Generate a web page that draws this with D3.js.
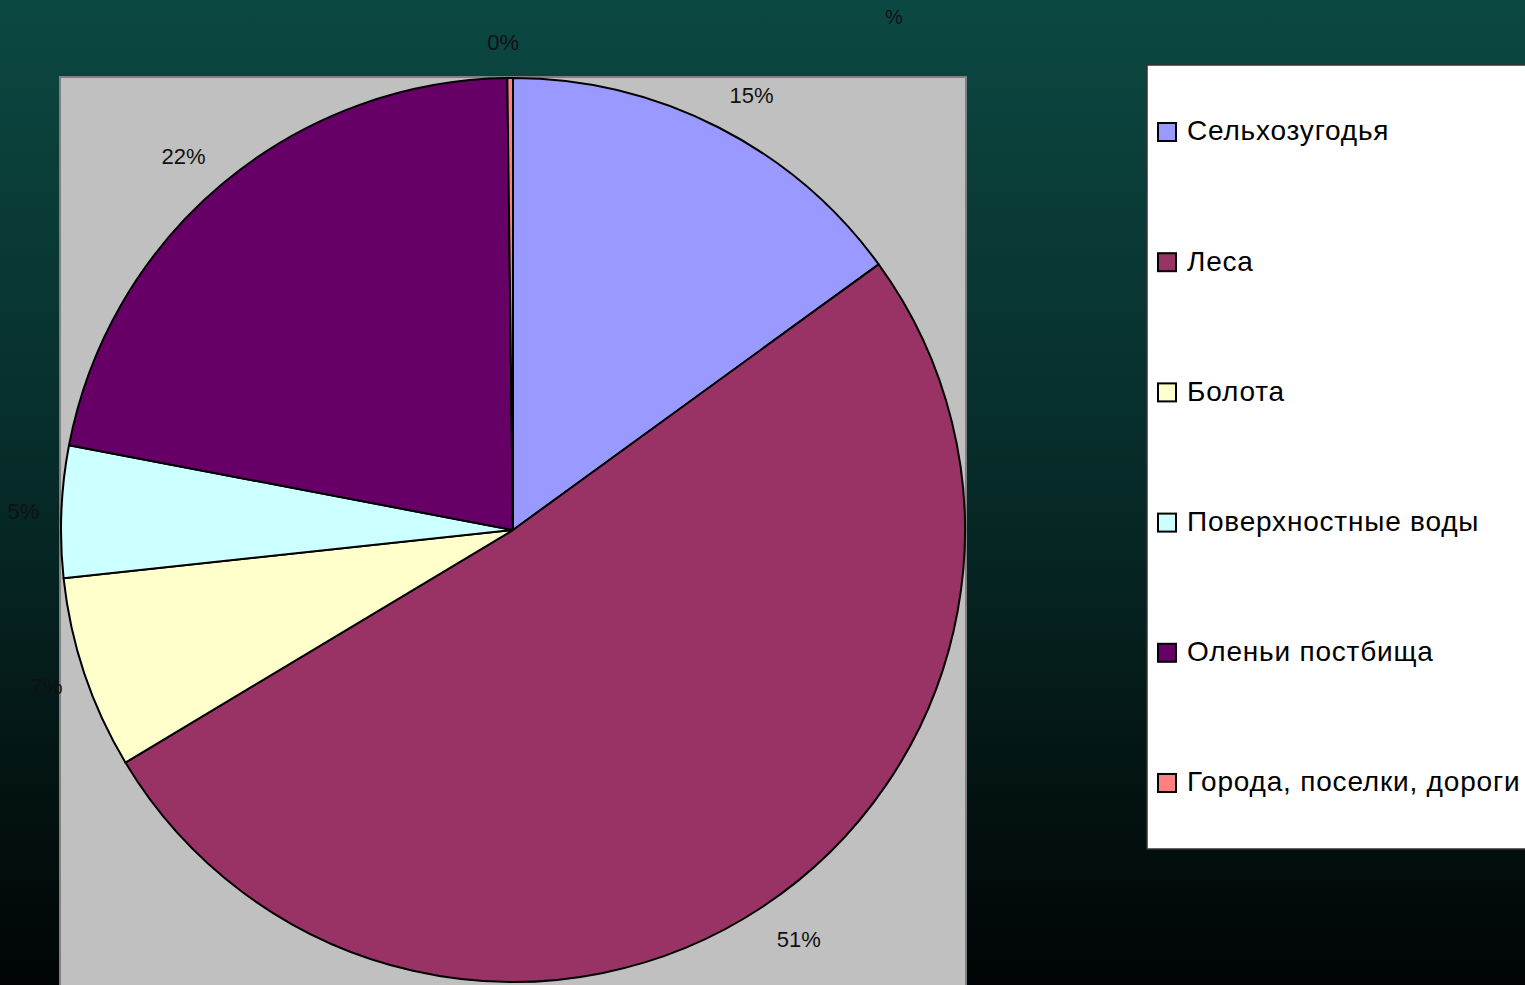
<!DOCTYPE html>
<html>
<head>
<meta charset="utf-8">
<script src="https://cdnjs.cloudflare.com/ajax/libs/d3/7.8.5/d3.min.js"></script>
<style>
  html, body { margin: 0; padding: 0; overflow: hidden; }
  body { width: 1525px; height: 985px; }
  text { font-family: "Liberation Sans", Arial, sans-serif; }
</style>
</head>
<body>
<div id="chart"></div>
<script>
// land categories and their shares (%), clockwise from 12 o'clock
const categories = ["Сельхозугодья", "Леса", "Болота", "Поверхностные воды", "Оленьи постбища", "Города, поселки, дороги"];
const shares = [15, 51.4, 6.9, 4.7, 21.8, 0.2];
const shareLabels = ["15%", "51%", "7%", "5%", "22%", "0%"];
const colors = ["#9999FF", "#993366", "#FFFFCC", "#CCFFFF", "#660066", "#FF8080"];

const W = 1525, H = 985;

const svg = d3.select("#chart").append("svg")
    .attr("width", W)
    .attr("height", H);

// background gradient
const grad = svg.append("defs").append("linearGradient")
    .attr("id", "bg")
    .attr("x1", 0).attr("y1", 0).attr("x2", 0).attr("y2", 1);
grad.append("stop").attr("offset", "0%").attr("stop-color", "#0c4842");
grad.append("stop").attr("offset", "50%").attr("stop-color", "#062a27");
grad.append("stop").attr("offset", "100%").attr("stop-color", "#010404");

svg.append("rect")
    .attr("width", W)
    .attr("height", H)
    .attr("fill", "url(#bg)");

// title
svg.append("text")
    .attr("x", 894)
    .attr("y", 19)
    .attr("text-anchor", "middle")
    .attr("dominant-baseline", "middle")
    .style("font-size", "20px")
    .attr("fill", "#111")
    .text("%");

// plot area
svg.append("rect")
    .attr("x", 60)
    .attr("y", 77)
    .attr("width", 906)
    .attr("height", 920)
    .attr("fill", "#C0C0C0")
    .attr("stroke", "#808080")
    .attr("stroke-width", 2);

const cx = 513, cy = 530, r = 452, labelR = 489;

const pie = d3.pie().sort(null).value(d => d);
const arcs = pie(shares);

const arc = d3.arc().innerRadius(0).outerRadius(r);

const g = svg.append("g")
    .attr("transform", "translate(" + cx + "," + cy + ")");

g.selectAll(".slice")
    .data(arcs)
    .enter().append("path")
    .attr("class", "slice")
    .attr("d", arc)
    .attr("fill", (d, i) => colors[i])
    .attr("stroke", "#000")
    .attr("stroke-width", 2)
    .attr("stroke-linejoin", "round");

// data labels: just outside the rim, pushed sideways away from the pie
g.selectAll(".lbl")
    .data(arcs)
    .enter().append("text")
    .attr("class", "lbl")
    .attr("text-anchor", "middle")
    .attr("dominant-baseline", "middle")
    .style("font-size", "22px")
    .attr("fill", "#111")
    .text((d, i) => shareLabels[i])
    .each(function (d) {
        const a = (d.startAngle + d.endAngle) / 2;
        const sn = Math.sin(a), cs = Math.cos(a);
        const w = this.getComputedTextLength();
        const s = Math.max(-1, Math.min(1, sn / 0.01));
        const inset = 5 + 10 * Math.pow(Math.abs(sn), 4);
        d3.select(this)
            .attr("x", labelR * sn - s * inset + s * w / 2)
            .attr("y", -labelR * cs + 3);
    });

// legend
const legend = svg.append("g");

legend.append("rect")
    .attr("x", 1147)
    .attr("y", 65)
    .attr("width", 380)
    .attr("height", 784)
    .attr("fill", "#fff")
    .attr("stroke", "#333")
    .attr("stroke-width", 1.5);

const legendY = d3.scalePoint()
    .domain(categories)
    .range([132, 783]);

const item = legend.selectAll(".item")
    .data(categories)
    .enter().append("g")
    .attr("class", "item")
    .attr("transform", d => "translate(1158," + legendY(d) + ")");

item.append("rect")
    .attr("x", 0)
    .attr("y", -9)
    .attr("width", 18)
    .attr("height", 18)
    .attr("fill", (d, i) => colors[i])
    .attr("stroke", "#000")
    .attr("stroke-width", 2);

item.append("text")
    .attr("x", 29)
    .attr("y", 1)
    .attr("dominant-baseline", "middle")
    .style("font-size", "28px")
    .style("letter-spacing", "0.8px")
    .attr("fill", "#000")
    .text(d => d);
</script>
</body>
</html>
